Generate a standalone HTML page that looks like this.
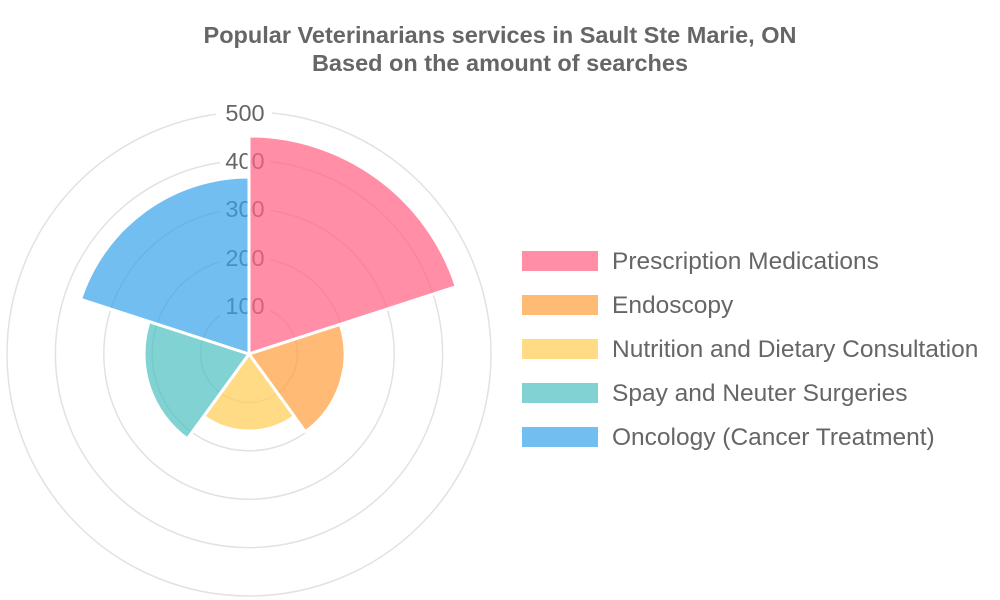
<!DOCTYPE html>
<html><head><meta charset="utf-8"><style>
body{margin:0;background:#fff;}
svg{display:block;font-family:"Liberation Sans",sans-serif;}
</style></head><body>
<svg width="1000" height="600" viewBox="0 0 1000 600">
<text x="500" y="43" text-anchor="middle" font-size="23.5" font-weight="bold" fill="#666">Popular Veterinarians services in Sault Ste Marie, ON</text>
<text x="500" y="71" text-anchor="middle" font-size="23.5" font-weight="bold" fill="#666">Based on the amount of searches</text>
<g fill="none" stroke="#e2e2e2" stroke-width="1.5">
<circle cx="249" cy="354" r="48.4"/><circle cx="249" cy="354" r="96.8"/><circle cx="249" cy="354" r="145.2"/><circle cx="249" cy="354" r="193.6"/><circle cx="249" cy="354" r="242"/>
</g>
<g fill="#fff">
<rect x="220" y="296" width="50" height="22"/><rect x="220" y="247" width="50" height="22"/><rect x="220" y="199" width="50" height="22"/><rect x="220" y="150" width="50" height="22"/><rect x="216" y="102" width="56" height="22"/>
</g>
<g font-size="23.5" fill="#666" text-anchor="middle">
<text x="245" y="314">100</text><text x="245" y="266">200</text><text x="245" y="217">300</text><text x="245" y="169">400</text><text x="245" y="121">500</text>
</g>
<g stroke="#fff" stroke-width="3" stroke-linejoin="round">
<path d="M249,354 L249,136 A218,218 0 0 1 456.3,286.6 Z" fill="rgba(255,99,132,0.72)"/>
<path d="M249,354 L340.3,324.3 A96,96 0 0 1 305.4,431.7 Z" fill="rgba(255,159,64,0.72)"/>
<path d="M249,354 L294.3,416.3 A77,77 0 0 1 203.7,416.3 Z" fill="rgba(255,205,86,0.72)"/>
<path d="M249,354 L187.3,438.9 A105,105 0 0 1 149.1,321.6 Z" fill="rgba(75,192,192,0.7)"/>
<path d="M249,354 L80.6,299.3 A177,177 0 0 1 249,177 Z" fill="rgba(54,162,235,0.7)"/>
</g>
<g>
<rect x="522" y="251" width="76" height="20" fill="rgba(255,99,132,0.72)"/>
<rect x="522" y="295" width="76" height="20" fill="rgba(255,159,64,0.72)"/>
<rect x="522" y="339" width="76" height="20" fill="rgba(255,205,86,0.72)"/>
<rect x="522" y="383" width="76" height="20" fill="rgba(75,192,192,0.7)"/>
<rect x="522" y="427" width="76" height="20" fill="rgba(54,162,235,0.7)"/>
</g>
<g font-size="24.5" fill="#666">
<text x="612" y="269">Prescription Medications</text>
<text x="612" y="313">Endoscopy</text>
<text x="612" y="357">Nutrition and Dietary Consultation</text>
<text x="612" y="401">Spay and Neuter Surgeries</text>
<text x="612" y="445">Oncology (Cancer Treatment)</text>
</g>
</svg>
</body></html>
